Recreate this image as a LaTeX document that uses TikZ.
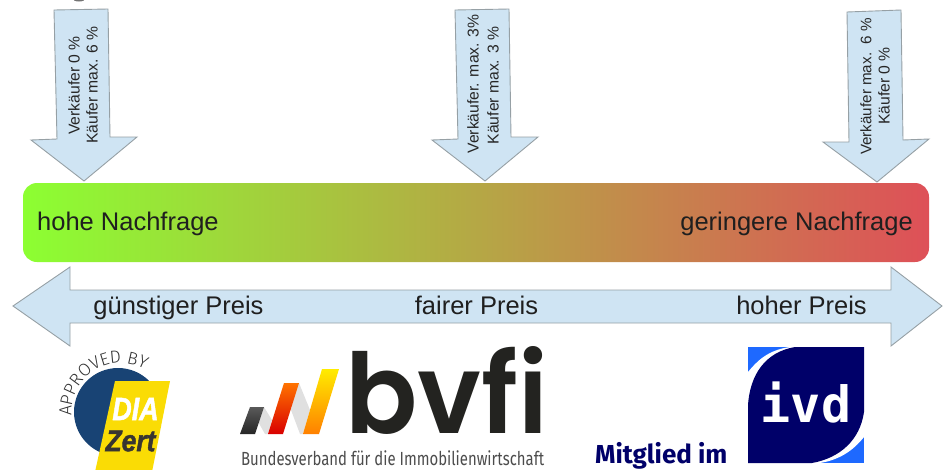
\documentclass[tikz,border=0pt]{standalone}
\usepackage{fontspec}
\setmainfont{Liberation Sans}
\newfontfamily\popf{Poppins}[UprightFont=* SemiBold]
\newfontfamily\firaf{Fira Sans}
\newfontfamily\firal{Fira Sans}[UprightFont=* Light]
\newfontfamily\monof{DejaVu Sans Mono}
\newfontfamily\diaf{Liberation Sans}[UprightFont=* Bold Italic,RawFeature={embolden=1.6}]
\usetikzlibrary{decorations.text}
\definecolor{arrowfill}{RGB}{207,228,243}
\definecolor{arrowline}{RGB}{150,160,165}
\definecolor{barL}{RGB}{140,255,50}
\definecolor{barM}{RGB}{186,182,66}
\definecolor{barR}{RGB}{222,80,88}
\definecolor{diablue}{RGB}{24,67,116}
\definecolor{diayellow}{RGB}{250,220,5}
\definecolor{bvfidark}{RGB}{35,35,32}
\definecolor{ivdnavy}{RGB}{0,0,105}
\definecolor{ivdblue}{RGB}{30,105,255}
\tikzset{
  bigarrow/.style={draw=arrowline,fill=arrowfill,line width=0.9pt,line join=miter},
  vlabel/.style={rotate=90,inner sep=0,font=\fontsize{15.7}{18}\selectfont,text=black!85},
  hlabel/.style={inner sep=0,anchor=base,font=\fontsize{25.5}{30}\selectfont,text=black!88},
}
\begin{document}
\begin{tikzpicture}[x=1pt,y=-1pt]
\useasboundingbox (0,0) rectangle (943,469);
\clip (0,0) rectangle (943,469);
\fill[black!55] (79,-1) ellipse[x radius=6,y radius=2.5];
% arrows down
\draw[bigarrow] (54,10) -- (108,9) -- (110,137) -- (137,137) -- (84,181) -- (31,140) -- (57,139) -- cycle;
\draw[bigarrow] (455,10) -- (509,9) -- (511,137) -- (538,137) -- (485,181) -- (432,140) -- (458,139) -- cycle;
\draw[bigarrow] (847,12) -- (901,10) -- (903,140) -- (929,139) -- (877,182) -- (823,142) -- (849,142) -- cycle;
\node[vlabel] (a1) at (74,85.5) {Verkäufer 0 \%};
\node[vlabel] (a2) at (92,85) {Käufer max. 6 \%};
\node[vlabel] (b1) at (473,84) {Verkäufer. max. 3\%};
\node[vlabel] (b2) at (493,85.5) {Käufer max. 3 \%};
\node[vlabel,font=\fontsize{15.2}{18}\selectfont] (c1) at (866,86.5) {Verkäufer max.\ \ 6 \%};
\node[vlabel] (c2) at (884,86) {Käufer 0 \%};
% gradient bar
\shade[left color=barL,middle color=barM,right color=barR,rounded corners=14pt] (23,183) rectangle (929,262);
\node[hlabel,anchor=base west] (hn) at (37,230) {hohe Nachfrage};
\node[hlabel,anchor=base east] (gn) at (913,230) {geringere Nachfrage};
% double arrow
\draw[bigarrow] (13,306) -- (70,267) -- (70,290) -- (891,290) -- (891,267) -- (942,306) -- (891,346) -- (891,323) -- (70,323) -- (70,346) -- cycle;
\node[hlabel] (p1) at (178.5,314) {günstiger Preis};
\node[hlabel] (p2) at (476.5,314) {fairer Preis};
\node[hlabel] (p3) at (801.5,314) {hoher Preis};
% DIA Zert
\fill[diablue] (118,412) circle[radius=44];
\fill[diayellow] (115,381) -- (170,381) -- (152,472) -- (95,472) -- cycle;
\node[inner sep=0,text=white,xscale=0.84,font=\diaf\fontsize{32}{32}\selectfont] (dia) at (135.5,409) {DIA};
\node[inner sep=0,text=black!90!yellow,xscale=0.88,font=\diaf\fontsize{30}{30}\selectfont] (zert) at (130.5,441) {Zert};
\path[decorate,decoration={text along path,text align=center,
  text={|\firal\fontsize{17.5}{18}\selectfont\color{black!80}|APPROVED BY}}]
  (71.5,412) arc[start angle=180,end angle=295,radius=49];
% bvfi mark
\fill[black!12] (260,407) -- (264,407) -- (272,420) -- (268,434) -- (265,434) -- (256,418) -- cycle;
\fill[black!12] (295,383) -- (299,383) -- (310,410) -- (303,434) -- (300,434) -- (291,410) -- cycle;
\shade[top color=black!65,bottom color=black!85] (250,407) -- (264,407) -- (255,434) -- (240,434) -- cycle;
\shade[top color=orange!90!red,bottom color=red!85!black] (284,383) -- (299,383) -- (283,434) -- (268,434) -- cycle;
\shade[top color=yellow!85!orange,bottom color=orange] (322,369) -- (339,369) -- (319,434) -- (303,434) -- cycle;
\node[inner sep=0,anchor=base west,text=bvfidark,font=\popf\fontsize{111}{111}\selectfont,xscale=0.96] (bvfi) at (345,433) {bvfi};
\node[inner sep=0,anchor=base west,text=black!70,xscale=0.785,font=\firaf\fontsize{19}{20}\selectfont] (bvfisub) at (241,465) {Bundesverband für die Immobilienwirtschaft};
% ivd
\fill[ivdblue] (748,347) rectangle (864,463);
\fill[white] (748,372) .. controls (757,361) and (768,350) .. (790,347) -- (864,347) -- (864,437) .. controls (852,452) and (838,460) .. (820,463) -- (748,463) -- cycle;
\fill[ivdnavy] (748,405) .. controls (750,375) and (765,352) .. (795,347) -- (864,347) -- (864,412) .. controls (860,440) and (840,458) .. (812,463) -- (748,463) -- cycle;
\node[inner sep=0,anchor=base,text=white,font=\monof\bfseries\fontsize{50}{50}\selectfont] (ivd) at (806,422) {ivd};
\node[inner sep=0,anchor=base west,text=ivdnavy,font=\firaf\bfseries\fontsize{26}{26}\selectfont] (mit) at (595,463) {Mitglied im};
\end{tikzpicture}
\end{document}
